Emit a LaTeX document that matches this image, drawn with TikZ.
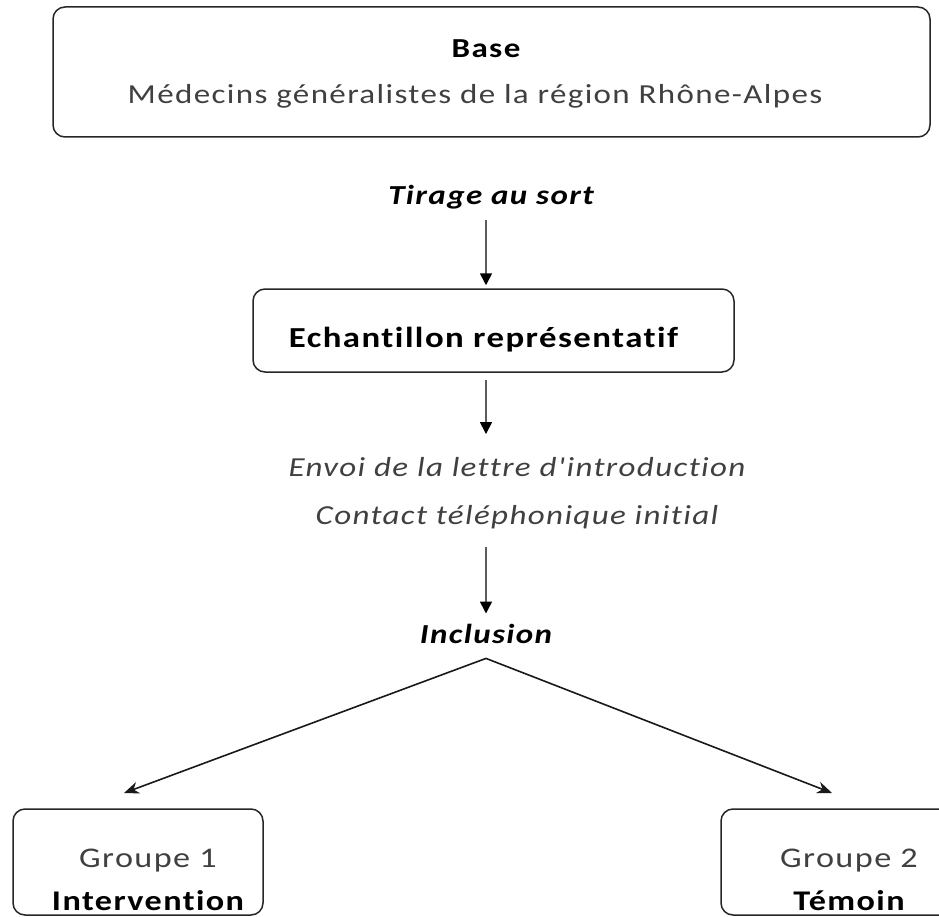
\documentclass[tikz,border=0pt]{standalone}
\usepackage{fontspec}
\setmainfont{Carlito}[Ligatures={TeXOff,CommonOff}, FakeStretch=1.2, LetterSpace=5]
\usetikzlibrary{arrows.meta}
\definecolor{textgray}{HTML}{404040}
\definecolor{shaftgray}{HTML}{5C5C5C}
\newcommand\flowsize{\fontsize{27.5}{48}\selectfont}
\newcommand\groupsize{\fontsize{28.5}{43}\selectfont}

\begin{document}
\begin{tikzpicture}[x=1pt, y=1pt,
    every node/.style = {align=center, inner sep=0pt},
    box/.style = {shape=rectangle, rounded corners=12pt,
      draw=black!85, line width=1.5pt},
    plain/.style = {font=\flowsize, text=textgray, anchor=base},
    strong/.style = {font=\flowsize\bfseries, anchor=base},
    steptext/.style = {font=\flowsize\bfseries\itshape, anchor=base},
    down/.style = {draw=shaftgray, line width=1.6pt,
      -{Triangle[length=12pt, width=12pt, color=black]}},
    fork/.style = {draw=black!90, line width=1.6pt,
      -{Stealth[length=15pt, width=12pt]}}]
    \useasboundingbox (0,0) rectangle (939,-917);
    % boxes
    \node[box, minimum width=877pt, minimum height=130pt] (base) at (491.5,-72) {};
    \node[box, minimum width=481pt, minimum height=83pt] (echant) at (493.5,-330.5) {};
    \node[box, minimum width=250pt, minimum height=106pt] (grp1) at (138,-862) {};
    \node[box, minimum width=256pt, minimum height=106pt] (grp2) at (849,-862) {};
    % texts
    \node[strong] (basetitle) at (486,-58) {Base};
    \node[plain] (basetext) at (475,-104) {Médecins généralistes de la région Rhône-Alpes};
    \node[steptext] (tirage) at (491,-205) {Tirage au sort};
    \node[strong, font=\fontsize{29}{36}\selectfont\bfseries] (echanttext) at (483.5,-347)
        {Echantillon représentatif};
    \node[font=\flowsize\itshape, text=textgray] (envoi) at (517,-493)
        {Envoi de la lettre d'introduction\\Contact téléphonique initial};
    \node[steptext] (incl) at (486,-643) {Inclusion};
    \node[plain, font=\groupsize] (grp1top) at (148,-867) {Groupe 1};
    \node[strong, font=\groupsize\bfseries] (grp1bot) at (148,-910) {Intervention};
    \node[plain, font=\groupsize] (grp2top) at (849,-867) {Groupe 2};
    \node[strong, font=\groupsize\bfseries] (grp2bot) at (849,-910) {Témoin};
    \coordinate (forkpt) at ([yshift=-15pt]incl.south);
    \coordinate (tipleft) at (124,-793);
    \coordinate (tipright) at (832,-793);

    \draw[down, shorten <=10pt, shorten >=3pt] (tirage.south -| incl) -- (echant.north -| incl);
    \draw[down, shorten <=7pt, shorten >=23pt] (echant.south -| incl) -- (envoi.north -| incl);
    \draw[down, shorten <=18pt, shorten >=10pt] (envoi.south -| incl) -- (incl.north);
    \draw[fork] (forkpt) -- (tipleft);
    \draw[fork] (forkpt) -- (tipright);
  \end{tikzpicture}
\end{document}
